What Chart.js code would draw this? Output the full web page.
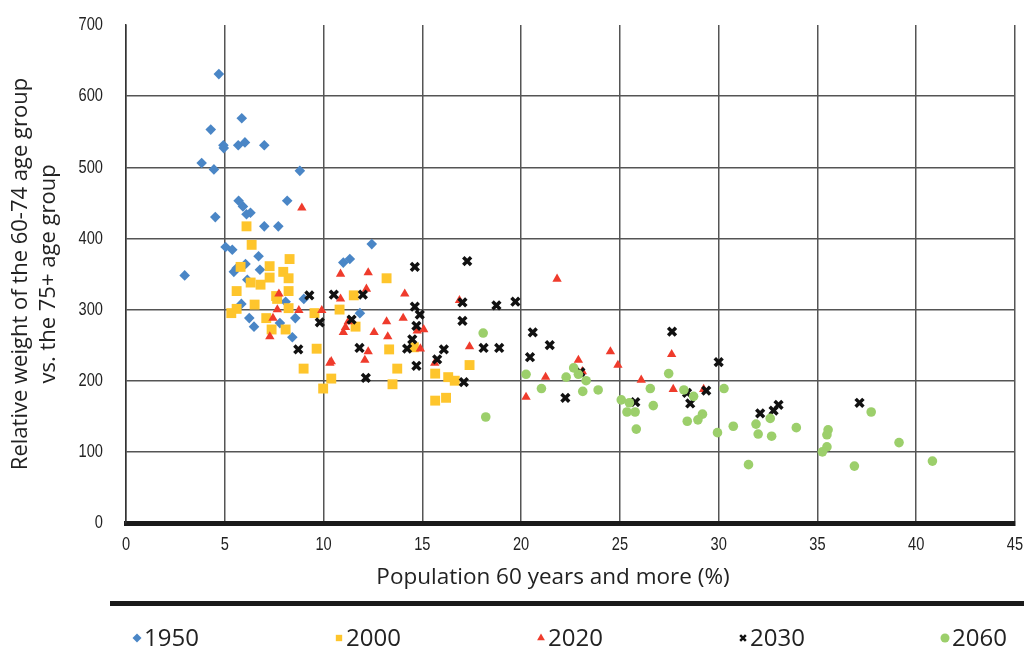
<!DOCTYPE html>
<html>
<head>
<meta charset="utf-8">
<script src="https://cdn.jsdelivr.net/npm/chart.js@4/dist/chart.umd.min.js"></script>
<style>
  html, body { margin: 0; padding: 0; background: #fff; overflow: hidden; }
  #wrap { width: 1024px; height: 661px; position: relative; }
</style>
</head>
<body>
<div id="wrap"><canvas id="chart"></canvas></div>
<script>
const X_TITLE = 'Population 60 years and more (%)';
const Y_TITLE = ['Relative weight of the 60-74 age group', 'vs. the 75+ age group'];
const SERIES_NAMES = ['1950', '2000', '2020', '2030', '2060'];

// [population 60+ (%), relative weight]
const s1950 = [
  [4.7, 631], [5.86, 569], [4.29, 553], [4.93, 531], [4.95, 527], [5.68, 531],
  [6.02, 535], [7.0, 531], [3.83, 506], [4.45, 497], [8.8, 495], [5.7, 453],
  [5.92, 445], [6.1, 434], [6.3, 436], [4.52, 430], [8.16, 453], [7.0, 417],
  [7.71, 417], [5.04, 388], [5.38, 384], [2.97, 348], [6.71, 375], [6.05, 364],
  [6.78, 356], [5.46, 353], [5.6, 358], [6.14, 342], [5.84, 308], [8.08, 311],
  [9.0, 315], [6.24, 288], [6.48, 276], [7.79, 281], [8.57, 288], [8.42, 261],
  [12.44, 392], [11.0, 366], [11.33, 371], [11.84, 295],
];
const s2000 = [
  [6.1, 417], [6.36, 391], [8.28, 371], [5.8, 360], [7.27, 361], [7.96, 353],
  [7.27, 345], [8.23, 344], [6.31, 338], [6.81, 335], [5.6, 326], [8.23, 326],
  [7.6, 319], [7.65, 315], [6.51, 307], [8.23, 302], [5.6, 301], [5.33, 295],
  [9.54, 295], [7.1, 288], [7.37, 272], [8.08, 272], [9.65, 245], [8.99, 217],
  [10.39, 203], [9.98, 189], [13.19, 344], [11.53, 320], [10.81, 300], [11.62, 276],
  [13.32, 244], [13.73, 217], [13.49, 195], [14.57, 247], [15.65, 210], [16.31, 205],
  [16.64, 200], [17.39, 222], [15.65, 172], [16.2, 176],
];
const s2020 = [
  [8.9, 443], [7.74, 322], [7.66, 300], [8.75, 299], [9.91, 299], [7.44, 288],
  [7.28, 262], [10.32, 225], [10.86, 350], [12.26, 352], [12.17, 329], [10.86, 315],
  [14.11, 322], [16.88, 313], [13.19, 283], [14.03, 288], [11.25, 283], [11.11, 275],
  [11.0, 268], [12.56, 268], [13.25, 262], [14.74, 270], [15.07, 272], [14.9, 245],
  [12.26, 241], [12.09, 229], [10.39, 227], [17.39, 248], [15.63, 225], [21.82, 343],
  [22.9, 229], [23.1, 213], [24.52, 241], [24.9, 222], [21.24, 205], [20.25, 177],
  [26.08, 201], [27.62, 237], [27.7, 188], [29.24, 188],
];
const s2030 = [
  [9.28, 320], [9.81, 282], [8.72, 244], [10.52, 321], [11.99, 321], [11.42, 286],
  [14.62, 360], [17.27, 368], [14.62, 304], [14.87, 293], [14.7, 277], [17.03, 310],
  [18.75, 306], [19.71, 311], [17.03, 284], [14.49, 258], [14.23, 245], [11.82, 246],
  [14.7, 221], [16.09, 244], [15.75, 230], [18.1, 246], [18.89, 246], [12.14, 204],
  [17.1, 198], [20.59, 268], [21.45, 250], [20.45, 233], [23.0, 212], [22.24, 176],
  [27.64, 269], [25.78, 170], [28.4, 183], [28.56, 168], [29.37, 186], [30.0, 226],
  [32.1, 154], [32.78, 158], [33.03, 166], [37.13, 169],
];
const s2060 = [
  [18.08, 267], [18.21, 149], [20.25, 209], [21.03, 189], [22.28, 205], [22.66, 218],
  [22.9, 209], [23.29, 200], [23.12, 185], [23.9, 187], [25.07, 173], [25.48, 169],
  [25.36, 156], [25.77, 156], [25.83, 132], [26.69, 165], [26.54, 189], [27.47, 210],
  [28.24, 187], [28.73, 178], [29.18, 153], [28.95, 145], [28.41, 143], [30.27, 189],
  [29.94, 127], [30.74, 136], [31.89, 139], [32.0, 125], [32.61, 147], [32.68, 122],
  [33.93, 134], [31.51, 82], [35.54, 131], [35.48, 124], [35.48, 107], [35.25, 100],
  [37.72, 156], [36.87, 80], [39.13, 113], [40.82, 87],
];

const X_TICK_MIN = 0, X_TICK_MAX = 45, X_STEP = 5;
const Y_TICK_MIN = 0, Y_TICK_MAX = 700, Y_STEP = 100;

const STYLES = [
  { color: '#4a86c6', pointStyle: 'rectRot', radius: 5.3, border: 0 },
  { color: '#fec52c', pointStyle: 'rect', radius: 7, border: 0 },
  { color: '#ef3b2c', pointStyle: 'triangle', radius: 5.4, border: 0 },
  { color: '#111111', pointStyle: 'crossRot', radius: 5.5, border: 3.5 },
  { color: '#9ccf6b', pointStyle: 'circle', radius: 4.8, border: 0 },
];

const TEXT = '#222';
const TICK_FONT = "19px 'Liberation Sans', Arial, sans-serif";
const TICK_SQUEEZE = 0.77; // tick digits in the original are a narrow face
const TITLE_FONT = { family: "'Open Sans', 'DejaVu Sans', sans-serif", size: 22.5 };

const toPoints = arr => arr.map(([x, y]) => ({ x, y }));
const allSeries = [s1950, s2000, s2020, s2030, s2060];

const datasets = allSeries.map((s, i) => ({
  label: SERIES_NAMES[i],
  data: toPoints(s),
  order: allSeries.length - i,
  pointStyle: STYLES[i].pointStyle,
  pointRadius: STYLES[i].radius,
  pointHoverRadius: STYLES[i].radius,
  pointBackgroundColor: STYLES[i].color,
  pointBorderColor: STYLES[i].color,
  pointBorderWidth: STYLES[i].border,
  backgroundColor: STYLES[i].color,
  borderColor: STYLES[i].color,
  showLine: false,
}));

// narrow tick labels, placed from the scales' own tick positions
const narrowTicks = {
  id: 'narrowTicks',
  afterDraw(chart) {
    const ctx = chart.ctx;
    const xs = chart.scales.x, ys = chart.scales.y;
    ctx.save();
    ctx.fillStyle = TEXT;
    ctx.font = TICK_FONT;
    ctx.textBaseline = 'middle';
    const put = (label, px, py, align) => {
      ctx.save();
      ctx.translate(px, py);
      ctx.scale(TICK_SQUEEZE, 1);
      ctx.textAlign = align;
      ctx.fillText(label, 0, 0);
      ctx.restore();
    };
    xs.ticks.forEach(t => put(String(t.value), xs.getPixelForValue(t.value), xs.top + 22, 'center'));
    ys.ticks.forEach(t => put(String(t.value), ys.right - 23, ys.getPixelForValue(t.value), 'right'));
    ctx.restore();
  },
};

// x title, separator line and legend row under the plot
const bottomLegend = {
  id: 'bottomLegend',
  afterDraw(chart) {
    const ctx = chart.ctx;
    ctx.save();
    ctx.fillStyle = TEXT;
    ctx.font = `${TITLE_FONT.size}px ${TITLE_FONT.family}`;
    ctx.textAlign = 'center';
    ctx.textBaseline = 'middle';
    ctx.fillText(X_TITLE, 553, 578);

    ctx.fillStyle = '#1a1a1a';
    ctx.fillRect(110, 601, chart.width - 110, 5);

    const left = 132, step = 202;
    const y = 638;
    chart.data.datasets.forEach((ds, i) => {
      const x = left + i * step;
      const st = STYLES[i];
      ctx.fillStyle = st.color;
      ctx.strokeStyle = st.color;
      ctx.lineWidth = st.border ? 2.5 : 0;
      Chart.helpers.drawPoint(ctx, {
        pointStyle: st.pointStyle,
        radius: st.pointStyle === 'crossRot' ? 4 : 4.5,
        rotation: 0,
        borderWidth: st.border ? 2.5 : 0,
      }, x + 5, y);
      ctx.fillStyle = TEXT;
      ctx.font = "24px 'Open Sans', 'DejaVu Sans', sans-serif";
      ctx.textAlign = 'left';
      ctx.fillText(ds.label, x + 12, y + 1);
    });
    ctx.restore();
  },
};

new Chart(document.getElementById('chart'), {
  type: 'scatter',
  data: { datasets },
  plugins: [narrowTicks, bottomLegend],
  options: {
    responsive: true,
    maintainAspectRatio: false,
    animation: false,
    layout: { padding: { top: 25, right: 9, left: 0, bottom: 58 } },
    plugins: {
      legend: { display: false },
      tooltip: { enabled: false },
    },
    scales: {
      x: {
        type: 'linear',
        min: X_TICK_MIN, max: X_TICK_MAX,
        afterFit: scale => { scale.height = 80; scale.paddingLeft = 0; scale.paddingRight = 0; },
        ticks: { stepSize: X_STEP, display: false },
        grid: { color: '#555', lineWidth: 1.5, drawTicks: false },
        border: { display: true, color: '#1a1a1a', width: 5 },
      },
      y: {
        type: 'linear',
        min: Y_TICK_MIN, max: Y_TICK_MAX,
        afterFit: scale => { scale.width = 126; scale.paddingTop = 0; scale.paddingBottom = 0; },
        ticks: { stepSize: Y_STEP, display: false },
        grid: {
          color: c => (c.tick && c.tick.value === Y_TICK_MAX ? 'rgba(0,0,0,0)' : '#555'),
          lineWidth: 1.5,
          drawTicks: false,
        },
        border: { display: true, color: '#333', width: 1.5 },
        title: {
          display: true, text: Y_TITLE, color: TEXT,
          font: { ...TITLE_FONT, size: 22, lineHeight: 1.3 }, padding: { top: 6, bottom: 0 },
        },
      },
    },
  },
});
</script>
</body>
</html>
